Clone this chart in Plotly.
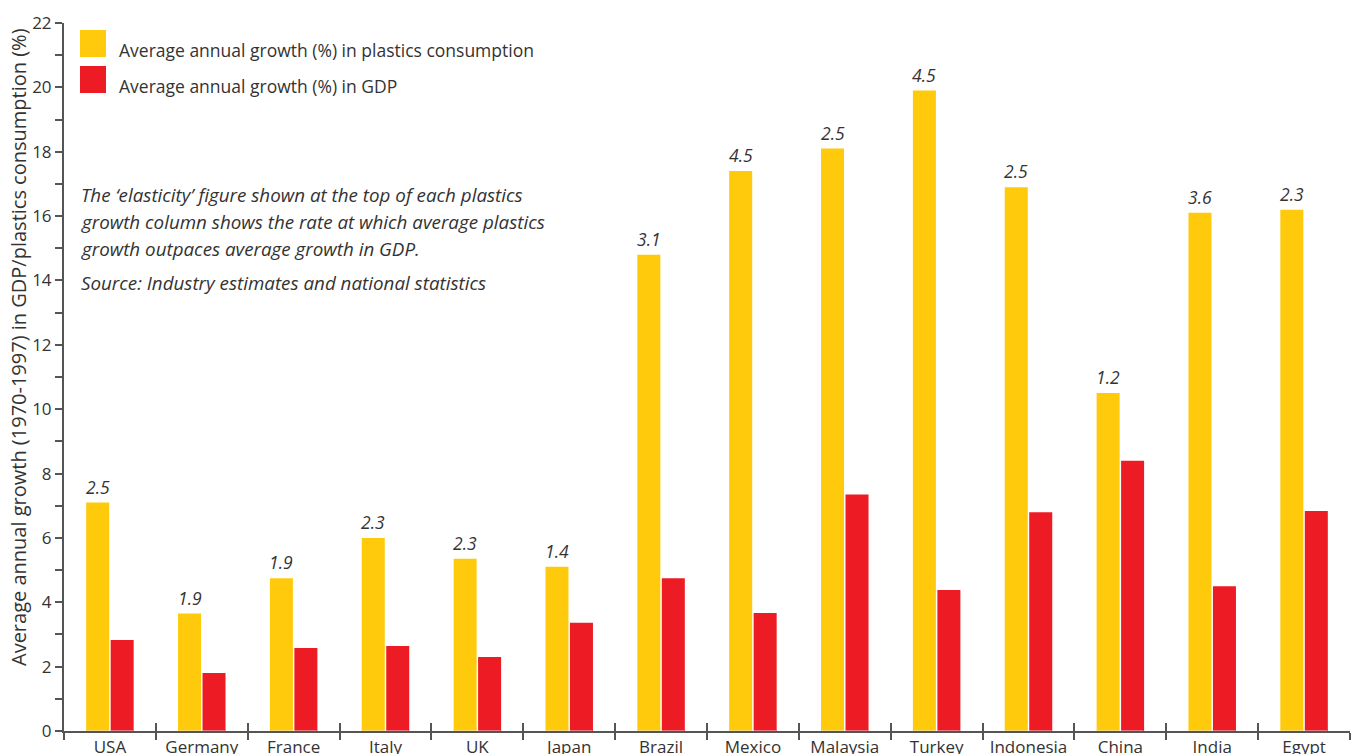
import plotly.graph_objects as go

countries = ["USA", "Germany", "France", "Italy", "UK", "Japan", "Brazil", "Mexico",
             "Malaysia", "Turkey", "Indonesia", "China", "India", "Egypt"]
plastics_growth = [7.1, 3.65, 4.75, 6.0, 5.35, 5.1, 14.8, 17.4, 18.1, 19.9, 16.9, 10.5, 16.1, 16.2]
gdp_growth = [2.83, 1.8, 2.58, 2.64, 2.3, 3.36, 4.75, 3.67, 7.35, 4.38, 6.8, 8.4, 4.5, 6.84]
elasticity = ["2.5", "1.9", "1.9", "2.3", "2.3", "1.4", "3.1", "4.5", "2.5", "4.5", "2.5", "1.2", "3.6", "2.3"]

legend_names = ["Average annual growth (%) in plastics consumption",
                "Average annual growth (%) in GDP"]
note_lines = ["The \u2018elasticity\u2019 figure shown at the top of each plastics",
              "growth column shows the rate at which average plastics",
              "growth outpaces average growth in GDP."]
source_text = "Source: Industry estimates and national statistics"
y_title = "Average annual growth (1970-1997) in GDP/plastics consumption (%)"

YELLOW = "#FFCA0B"
RED = "#ED1C24"
TEXT = "#333333"
AXIS = "#555555"
FONT = "Open Sans"

W, H = 1355, 754
L, R, T, B = 64, 5, 23, 23
PW, PH = W - L - R, H - T - B
BARGAP, GROUPGAP = 0.467, 0.06


def px_x(x):
    return (x - L) / PW


def px_y(y):
    return 1 - (y - T) / PH


fig = go.Figure()
fig.add_trace(go.Bar(x=countries, y=plastics_growth, name=legend_names[0],
                     marker=dict(color=YELLOW, line=dict(width=0)), showlegend=False))
fig.add_trace(go.Bar(x=countries, y=gdp_growth, name=legend_names[1],
                     marker=dict(color=RED, line=dict(width=0)), showlegend=False))

cat_w = PW / len(countries)
shift = -(1 - BARGAP) * cat_w / 4
annotations = []
for c, v, e in zip(countries, plastics_growth, elasticity):
    annotations.append(dict(x=c, y=v, xref="x", yref="y", text=e, showarrow=False,
                            xshift=shift, yshift=2, yanchor="bottom",
                            font=dict(family=FONT, size=17.5, color=TEXT, style="italic")))

# legend (custom)
shapes = []
for i, (col, name) in enumerate(zip([YELLOW, RED], legend_names)):
    y0 = 30 + i * 36
    shapes.append(dict(type="rect", xref="paper", yref="paper",
                       x0=px_x(80), x1=px_x(106), y0=px_y(y0 + 27), y1=px_y(y0),
                       fillcolor=col, line=dict(width=0)))
    annotations.append(dict(x=px_x(117), y=px_y(y0 + 20), xref="paper", yref="paper",
                            text=name, showarrow=False, xanchor="left", yanchor="middle",
                            font=dict(family=FONT, size=17.5, color=TEXT)))

for i, line in enumerate(note_lines):
    annotations.append(dict(x=px_x(79), y=px_y(195 + i * 27), xref="paper", yref="paper",
                            text=line, showarrow=False, xanchor="left", yanchor="middle",
                            font=dict(family=FONT, size=18.8, color=TEXT, style="italic")))
annotations.append(dict(x=px_x(79), y=px_y(283), xref="paper", yref="paper",
                        text=source_text, showarrow=False, xanchor="left", yanchor="middle",
                        font=dict(family=FONT, size=18.8, color=TEXT, style="italic")))

annotations.append(dict(x=px_x(18), y=px_y(347), xref="paper", yref="paper",
                        text=y_title, showarrow=False, textangle=-90,
                        xanchor="center", yanchor="middle",
                        font=dict(family=FONT, size=20, color=TEXT)))

fig.update_layout(
    width=W, height=H,
    margin=dict(l=L, r=R, t=T, b=B, pad=0),
    paper_bgcolor="white", plot_bgcolor="white",
    barmode="group", bargap=BARGAP, bargroupgap=GROUPGAP,
    annotations=annotations, shapes=shapes,
    font=dict(family=FONT, color=TEXT),
    xaxis=dict(showline=True, linecolor=AXIS, linewidth=2, showgrid=False,
               ticks="outside", tickson="boundaries", ticklen=7, tickwidth=2,
               tickcolor=AXIS, tickfont=dict(family=FONT, size=17, color=TEXT),
               range=[-0.5, len(countries) - 0.5], zeroline=False, automargin=False),
    xaxis2=dict(overlaying="x", matches="x", anchor="y", side="bottom",
                showline=False, showgrid=False, ticks="inside", tickson="boundaries",
                ticklen=8, tickwidth=2, tickcolor=AXIS, showticklabels=False,
                range=[-0.5, len(countries) - 0.5], zeroline=False, automargin=False),
    yaxis=dict(range=[0, 22], dtick=2, showline=True, linecolor=AXIS, linewidth=2,
               showgrid=False, zeroline=False, ticks="outside", ticklen=7, tickwidth=2,
               tickcolor=AXIS, tickfont=dict(family=FONT, size=17, color=TEXT),
               automargin=False,
               minor=dict(dtick=1, ticks="outside", ticklen=7, tickwidth=2, tickcolor=AXIS)),
)
# a transparent helper trace on xaxis2 so its boundary ticks render
fig.add_trace(go.Bar(x=countries, y=[0] * len(countries), xaxis="x2", showlegend=False,
                     hoverinfo="skip", marker=dict(color="rgba(0,0,0,0)")))

fig.write_html("out.html")
